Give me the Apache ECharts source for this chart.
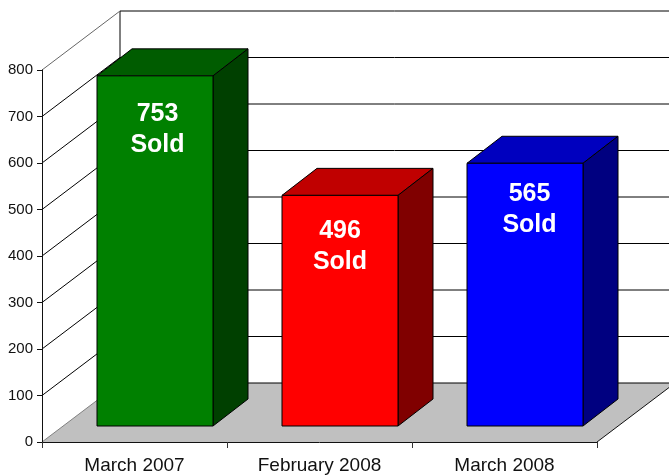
<!DOCTYPE html>
<html>
<head>
<meta charset="utf-8">
<style>
  html, body { margin: 0; padding: 0; background: #fff; }
  #main { width: 669px; height: 475px; }
</style>
<script src="https://cdn.jsdelivr.net/npm/echarts@6/dist/echarts.min.js"></script>
</head>
<body>
<div id="main"></div>
<script>
// data
var categories = ['March 2007', 'February 2008', 'March 2008'];
var soldValues = [753, 496, 565];
var gridTicks = [100, 200, 300, 400, 500, 600, 700, 800];

// colours and drawing offsets
var frontColors = ['#008000', '#ff0000', '#0000ff'];
var topColors = ['#005c00', '#c00000', '#0000bf'];
var sideColors = ['#004000', '#800000', '#000080'];
var labelDrop = [23, 20, 15];
var labelShift = [2.5, 0, 4.5];
var wallDx = 78, wallDy = -59;   // depth of the whole chart box
var barShiftX = 20.5, barShiftY = -16;  // bars stand a bit behind the front edge
var barDx = 35, barDy = -27;     // depth of one bar
var barWidth = 116;

function renderWall(params, api) {
  var rect = params.coordSys;
  var y = api.coord([0, api.value(1)])[1];
  var x0 = rect.x, x1 = rect.x + wallDx, yb = y + wallDy;
  return {
    type: 'group',
    silent: true,
    children: [
      // the top diagonal is lighter than the others
      { type: 'line', shape: { x1: x0, y1: y, x2: x1, y2: yb }, style: { stroke: api.value(1) === 800 ? '#666' : '#000', lineWidth: 1 } },
      { type: 'line', shape: { x1: x1, y1: yb, x2: 669, y2: yb }, style: { stroke: '#000', lineWidth: 1 } }
    ]
  };
}

function renderFloor(params, api) {
  var rect = params.coordSys;
  var y = api.coord([0, 0])[1];
  var l = rect.x, r = rect.x + rect.width;
  return {
    type: 'group',
    children: [
      {
        type: 'polygon',
        shape: { points: [[l, y], [r, y], [r + wallDx, y + wallDy], [l + wallDx, y + wallDy]] },
        style: { fill: '#c0c0c0', stroke: null }
      },
      { type: 'line', shape: { x1: l, y1: y, x2: l + wallDx, y2: y + wallDy }, style: { stroke: '#808080', lineWidth: 1 } },
      { type: 'line', shape: { x1: l + wallDx, y1: y + wallDy, x2: 669, y2: y + wallDy }, style: { stroke: '#000', lineWidth: 1 } },
      { type: 'line', shape: { x1: r, y1: y, x2: r + wallDx, y2: y + wallDy }, style: { stroke: '#111', lineWidth: 1 } },
      // back corner of the box
      { type: 'line', shape: { x1: l + wallDx, y1: y + wallDy, x2: l + wallDx, y2: api.coord([0, 800])[1] + wallDy }, style: { stroke: '#000', lineWidth: 1 } }
    ]
  };
}

function renderBar(params, api) {
  var i = params.dataIndex;
  var base = api.coord([api.value(0), 0]);
  var head = api.coord([api.value(0), api.value(1)]);
  var l = base[0] + barShiftX - barWidth / 2;
  var r = l + barWidth;
  var b = base[1] + barShiftY;
  var t = head[1] + barShiftY;
  var edge = { stroke: '#000', lineWidth: 1, lineJoin: 'round' };
  return {
    type: 'group',
    children: [
      {
        type: 'polygon',
        shape: { points: [[l, t], [l + barDx, t + barDy], [r + barDx, t + barDy], [r, t]] },
        style: Object.assign({ fill: topColors[i] }, edge)
      },
      {
        type: 'polygon',
        shape: { points: [[r, t], [r + barDx, t + barDy], [r + barDx, b + barDy], [r, b]] },
        style: Object.assign({ fill: sideColors[i] }, edge)
      },
      {
        type: 'rect',
        shape: { x: l, y: t, width: barWidth, height: b - t },
        style: Object.assign({ fill: frontColors[i] }, edge)
      },
      {
        type: 'text',
        z2: 10,
        style: {
          x: (l + r) / 2 + labelShift[i],
          y: t + labelDrop[i],
          text: soldValues[i] + '\nSold',
          fill: '#fff',
          font: 'bold 25px "Liberation Sans", Arial, sans-serif',
          lineHeight: 31,
          align: 'center',
          verticalAlign: 'top'
        }
      }
    ]
  };
}

var chart = echarts.init(document.getElementById('main'));
var option = {
  animation: false,
  // outerBoundsMode none: keep the grid where it is set, long labels must not shrink it
  grid: { left: 42, right: 72, top: 70, bottom: 33, outerBoundsMode: 'none' },
  xAxis: {
    type: 'category',
    data: categories,
    z: 3,
    axisLine: { onZero: false, lineStyle: { color: '#111', width: 1 } },
    axisTick: { show: true, length: 6, alignWithLabel: false, lineStyle: { color: '#333' } },
    axisLabel: {
      color: '#111', fontSize: 19, margin: 14, interval: 0,
      fontFamily: '"Liberation Sans", Arial, sans-serif'
    },
    splitLine: { show: false }
  },
  yAxis: {
    type: 'value',
    min: 0,
    max: 800,
    interval: 100,
    z: 3,
    axisLine: { show: true, lineStyle: { color: '#111', width: 1 } },
    axisTick: { show: true, length: 5, lineStyle: { color: '#111' } },
    axisLabel: {
      color: '#111', fontSize: 15, margin: 9, padding: [2, 0, 0, 0],
      fontFamily: '"Liberation Sans", Arial, sans-serif'
    },
    splitLine: { show: false }
  },
  series: [
    {
      type: 'custom',
      z: 1,
      clip: false,
      silent: true,
      renderItem: renderFloor,
      data: [[0, 0]]
    },
    {
      type: 'custom',
      z: 2,
      clip: false,
      silent: true,
      renderItem: renderWall,
      data: gridTicks.map(function (v) { return [0, v]; })
    },
    {
      type: 'custom',
      z: 4,
      clip: false,
      silent: true,
      renderItem: renderBar,
      data: soldValues.map(function (v, i) { return [i, v]; })
    }
  ]
};
chart.setOption(option);
</script>
</body>
</html>
